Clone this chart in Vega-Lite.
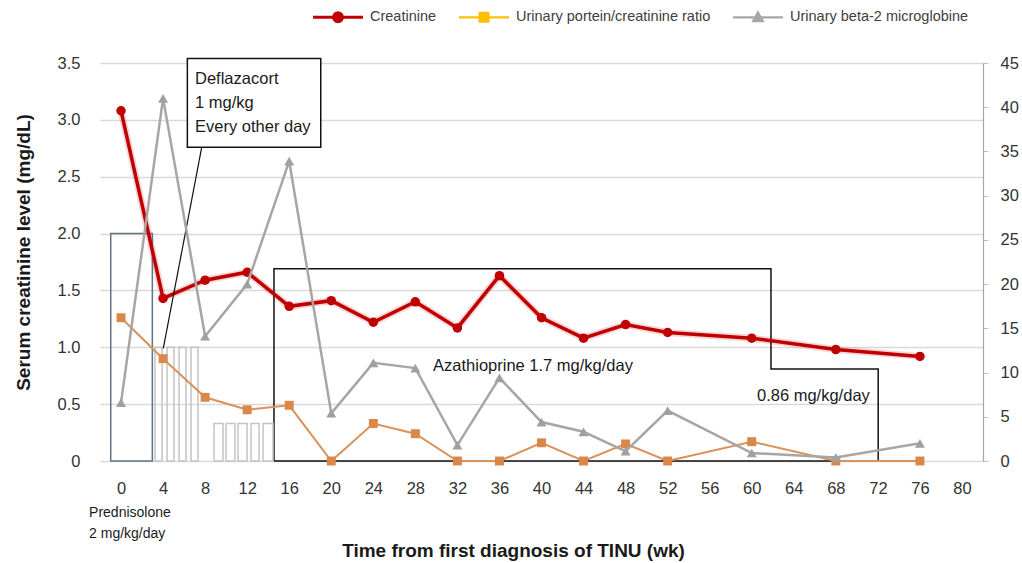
{
  "$schema": "https://vega.github.io/schema/vega-lite/v6.json",
  "width": 883,
  "height": 398,
  "autosize": {"type": "none"},
  "padding": {"left": 100, "top": 63, "right": 39, "bottom": 102},
  "background": "white",
  "config": {"view": {"stroke": null}, "font": "Liberation Sans"},
  "datasets": {
    "series": [
      {"week": 0, "creatinine": 3.08, "upcr": 1.26, "b2m": 6.6},
      {"week": 4, "creatinine": 1.43, "upcr": 0.9, "b2m": 41.0},
      {"week": 8, "creatinine": 1.59, "upcr": 0.56, "b2m": 14.1},
      {"week": 12, "creatinine": 1.66, "upcr": 0.45, "b2m": 20.0},
      {"week": 16, "creatinine": 1.36, "upcr": 0.49, "b2m": 33.9},
      {"week": 20, "creatinine": 1.41, "upcr": 0, "b2m": 5.4},
      {"week": 24, "creatinine": 1.22, "upcr": 0.33, "b2m": 11.1},
      {"week": 28, "creatinine": 1.4, "upcr": 0.24, "b2m": 10.5},
      {"week": 32, "creatinine": 1.17, "upcr": 0, "b2m": 1.8},
      {"week": 36, "creatinine": 1.63, "upcr": 0, "b2m": 9.4},
      {"week": 40, "creatinine": 1.26, "upcr": 0.16, "b2m": 4.4},
      {"week": 44, "creatinine": 1.08, "upcr": 0, "b2m": 3.3},
      {"week": 48, "creatinine": 1.2, "upcr": 0.15, "b2m": 1.1},
      {"week": 52, "creatinine": 1.13, "upcr": 0, "b2m": 5.7},
      {"week": 60, "creatinine": 1.08, "upcr": 0.17, "b2m": 0.9},
      {"week": 68, "creatinine": 0.98, "upcr": 0, "b2m": 0.4},
      {"week": 76, "creatinine": 0.92, "upcr": 0, "b2m": 2.0}
    ],
    "legend": [
      {"series": "Creatinine"},
      {"series": "Urinary portein/creatinine ratio"},
      {"series": "Urinary beta-2 microglobine"}
    ],
    "pred": [{"start": -0.98, "end": 2.98, "dose": 2.0}],
    "bars": [
      {"start": 3.23, "end": 3.9, "dose": 1.0},
      {"start": 4.38, "end": 5.04, "dose": 1.0},
      {"start": 5.52, "end": 6.18, "dose": 1.0},
      {"start": 6.66, "end": 7.32, "dose": 1.0},
      {"start": 8.85, "end": 9.7, "dose": 0.33},
      {"start": 9.99, "end": 10.84, "dose": 0.33},
      {"start": 11.13, "end": 11.99, "dose": 0.33},
      {"start": 12.37, "end": 13.13, "dose": 0.33},
      {"start": 13.51, "end": 14.46, "dose": 0.33}
    ],
    "aza": [
      {"order": 1, "week": 14.55, "dose": 0},
      {"order": 2, "week": 14.55, "dose": 1.69},
      {"order": 3, "week": 61.83, "dose": 1.69},
      {"order": 4, "week": 61.83, "dose": 0.81},
      {"order": 5, "week": 72.03, "dose": 0.81},
      {"order": 6, "week": 72.03, "dose": 0},
      {"order": 7, "week": 14.55, "dose": 0}
    ],
    "callout": [{"start": 6.31, "end": 19.0, "low": 2.76, "high": 3.54}],
    "pointer": [{"week": 7.68, "value": 2.76, "week2": 4.02, "value2": 0.99}],
    "notes": [
      {"week": 7.04, "value": 3.36, "label": "Deflazacort"},
      {"week": 7.04, "value": 3.148, "label": "1 mg/kg"},
      {"week": 7.04, "value": 2.937, "label": "Every other day"},
      {"week": 29.68, "value": 0.835, "label": "Azathioprine 1.7 mg/kg/day"},
      {"week": 60.5, "value": 0.572, "label": "0.86 mg/kg/day"}
    ],
    "prednotes": [
      {"week": -3.04, "value": -0.457, "label": "Prednisolone"},
      {"week": -3.04, "value": -0.642, "label": "2 mg/kg/day"}
    ]
  },
  "layer": [
    {
      "layer": [
        {
          "data": {"name": "series"},
          "mark": {"type": "line", "color": "#e87070", "strokeWidth": 7, "opacity": 0.3},
          "encoding": {
            "x": {"field": "week", "type": "quantitative", "scale": {"domain": [-2, 82], "nice": false}, "axis": {
              "values": [0, 4, 8, 12, 16, 20, 24, 28, 32, 36, 40, 44, 48, 52, 56, 60, 64, 68, 72, 76, 80],
              "grid": false, "domain": false, "ticks": false, "labelPadding": 19, "labelFlush": false, "labelOverlap": false,
              "labelFontSize": 16.5, "labelColor": "#333333", "labelFont": "Liberation Sans",
              "title": "Time from first diagnosis of TINU (wk)", "titleFont": "Liberation Sans", "titleFontSize": 19,
              "titleFontWeight": "bold", "titleColor": "#1a1a1a", "titleX": 413, "titleY": 95,
              "titleAlign": "center", "titleBaseline": "alphabetic"
            }},
            "y": {"field": "creatinine", "type": "quantitative", "scale": {"domain": [0, 3.5], "nice": false}, "axis": {
              "values": [0, 0.5, 1, 1.5, 2, 2.5, 3, 3.5],
              "labelExpr": "datum.value === 0 ? '0' : format(datum.value, '.1f')",
              "grid": true, "gridColor": "#d9d9d9", "gridWidth": 1.5, "domain": false, "ticks": false,
              "labelPadding": 20, "labelFontSize": 16.5, "labelColor": "#333333", "labelFont": "Liberation Sans",
              "title": "Serum creatinine level (mg/dL)", "titleFont": "Liberation Sans", "titleFontSize": 19,
              "titleFontWeight": "bold", "titleColor": "#1a1a1a", "titleX": -71, "titleY": 189,
              "titleAngle": -90, "titleAlign": "center", "titleBaseline": "alphabetic"
            }}
          }
        },
        {
          "data": {"name": "aza"},
          "mark": {"type": "line", "color": "#111111", "strokeWidth": 1.5},
          "encoding": {
            "x": {"field": "week", "type": "quantitative", "scale": {"domain": [-2, 82], "nice": false}},
            "y": {"field": "dose", "type": "quantitative", "scale": {"domain": [0, 3.5], "nice": false}},
            "order": {"field": "order", "type": "quantitative"}
          }
        },
        {
          "data": {"name": "pred"},
          "mark": {"type": "rect", "fillOpacity": 0, "stroke": "#5f7380", "strokeWidth": 1.5},
          "encoding": {
            "x": {"field": "start", "type": "quantitative", "scale": {"domain": [-2, 82], "nice": false}},
            "x2": {"field": "end"},
            "y": {"field": "dose", "type": "quantitative", "scale": {"domain": [0, 3.5], "nice": false}},
            "y2": {"datum": 0}
          }
        },
        {
          "data": {"name": "bars"},
          "mark": {"type": "rect", "fillOpacity": 0, "stroke": "#c4c4c4", "strokeWidth": 1.5},
          "encoding": {
            "x": {"field": "start", "type": "quantitative", "scale": {"domain": [-2, 82], "nice": false}},
            "x2": {"field": "end"},
            "y": {"field": "dose", "type": "quantitative", "scale": {"domain": [0, 3.5], "nice": false}},
            "y2": {"datum": 0}
          }
        },
        {
          "data": {"name": "series"},
          "mark": {"type": "line", "color": "#c00000", "strokeWidth": 3.5, "point": {"filled": true, "size": 90, "color": "#c00000"}},
          "encoding": {
            "x": {"field": "week", "type": "quantitative", "scale": {"domain": [-2, 82], "nice": false}},
            "y": {"field": "creatinine", "type": "quantitative", "scale": {"domain": [0, 3.5], "nice": false}}
          }
        },
        {
          "data": {"name": "series"},
          "mark": {"type": "line", "color": "#d9925a", "strokeWidth": 2, "point": {"filled": true, "shape": "square", "size": 80, "color": "#d9884a"}},
          "encoding": {
            "x": {"field": "week", "type": "quantitative", "scale": {"domain": [-2, 82], "nice": false}},
            "y": {"field": "upcr", "type": "quantitative", "scale": {"domain": [0, 3.5], "nice": false}}
          }
        },
        {
          "data": {"name": "callout"},
          "mark": {"type": "rect", "fill": "white", "stroke": "#111111", "strokeWidth": 1.5},
          "encoding": {
            "x": {"field": "start", "type": "quantitative", "scale": {"domain": [-2, 82], "nice": false}},
            "x2": {"field": "end"},
            "y": {"field": "high", "type": "quantitative", "scale": {"domain": [0, 3.5], "nice": false}},
            "y2": {"field": "low"}
          }
        },
        {
          "data": {"name": "pointer"},
          "mark": {"type": "rule", "color": "#111111", "strokeWidth": 1.2},
          "encoding": {
            "x": {"field": "week", "type": "quantitative", "scale": {"domain": [-2, 82], "nice": false}},
            "y": {"field": "value", "type": "quantitative", "scale": {"domain": [0, 3.5], "nice": false}},
            "x2": {"field": "week2"},
            "y2": {"field": "value2"}
          }
        },
        {
          "data": {"name": "notes"},
          "mark": {"type": "text", "align": "left", "baseline": "middle", "fontSize": 16.5, "font": "Liberation Sans", "color": "#1a1a1a"},
          "encoding": {
            "x": {"field": "week", "type": "quantitative", "scale": {"domain": [-2, 82], "nice": false}},
            "y": {"field": "value", "type": "quantitative", "scale": {"domain": [0, 3.5], "nice": false}},
            "text": {"field": "label"}
          }
        },
        {
          "data": {"name": "prednotes"},
          "mark": {"type": "text", "align": "left", "baseline": "middle", "fontSize": 14, "font": "Liberation Sans", "color": "#1a1a1a"},
          "encoding": {
            "x": {"field": "week", "type": "quantitative", "scale": {"domain": [-2, 82], "nice": false}},
            "y": {"field": "value", "type": "quantitative", "scale": {"domain": [0, 3.5], "nice": false}},
            "text": {"field": "label"}
          }
        },
        {
          "data": {"name": "legend"},
          "mark": {"type": "point", "filled": true, "opacity": 0, "size": 2500},
          "encoding": {
            "color": {"field": "series", "type": "nominal",
              "scale": {"domain": ["Creatinine", "Urinary portein/creatinine ratio", "Urinary beta-2 microglobine"], "range": ["#c00000", "#ffc000", "#a6a6a6"]},
              "legend": {"orient": "none", "legendX": 213, "legendY": -71, "direction": "horizontal", "columns": 3, "columnPadding": 22, "labelOffset": 7, "labelFontSize": 14.5, "labelFont": "Liberation Sans", "labelColor": "#404040", "symbolOpacity": 1, "symbolSize": 2500, "symbolStrokeWidth": 0, "title": null, "padding": 0, "labelLimit": 400}},
            "shape": {"field": "series", "type": "nominal",
              "scale": {"domain": ["Creatinine", "Urinary portein/creatinine ratio", "Urinary beta-2 microglobine"], "range": [
                "M-1,-0.06L1,-0.06L1,0.06L-1,0.06Z M0.24,0L0.208,0.12L0.12,0.208L0,0.24L-0.12,0.208L-0.208,0.12L-0.24,0L-0.208,-0.12L-0.12,-0.208L0,-0.24L0.12,-0.208L0.208,-0.12Z",
                "M-1,-0.045L1,-0.045L1,0.045L-1,0.045Z M-0.22,-0.22L0.22,-0.22L0.22,0.22L-0.22,0.22Z",
                "M-1,-0.045L1,-0.045L1,0.045L-1,0.045Z M0,-0.28L0.27,0.2L-0.27,0.2Z"
              ]},
              "legend": {"orient": "none", "legendX": 213, "legendY": -71, "direction": "horizontal", "columns": 3, "columnPadding": 22, "labelOffset": 7, "labelFontSize": 14.5, "labelFont": "Liberation Sans", "labelColor": "#404040", "symbolOpacity": 1, "symbolSize": 2500, "symbolStrokeWidth": 0, "title": null, "padding": 0, "labelLimit": 400}}
          }
        }
      ]
    },
    {
      "layer": [
        {
          "data": {"name": "series"},
          "mark": {"type": "line", "color": "#a6a6a6", "strokeWidth": 2.5, "point": {"filled": true, "shape": "triangle-up", "size": 100, "color": "#a0a0a0"}},
          "encoding": {
            "x": {"field": "week", "type": "quantitative", "scale": {"domain": [-2, 82], "nice": false}},
            "y": {"field": "b2m", "type": "quantitative", "scale": {"domain": [0, 45], "nice": false}, "axis": {
              "orient": "right", "values": [0, 5, 10, 15, 20, 25, 30, 35, 40, 45], "grid": false,
              "domain": true, "domainColor": "#a6a6a6", "domainWidth": 1.2, "ticks": true, "tickSize": 5, "tickColor": "#bfbfbf",
              "labelPadding": 12, "labelFontSize": 16.5, "labelColor": "#333333", "labelFont": "Liberation Sans", "title": null
            }}
          }
        }
      ]
    }
  ],
  "resolve": {"scale": {"y": "independent"}, "axis": {"y": "independent"}}
}
